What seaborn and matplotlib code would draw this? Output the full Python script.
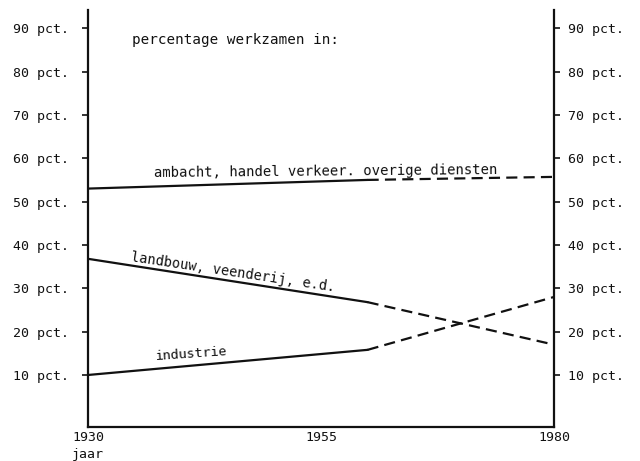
import pandas as pd
import seaborn as sns
import matplotlib.pyplot as plt
from matplotlib.transforms import ScaledTranslation

# Data
years = [1930, 1960, 1980]
ambacht = [53.0, 55.0, 55.7]
landbouw = [36.8, 26.8, 17.0]
industrie = [10.0, 15.8, 28.0]
ytick_values = [10, 20, 30, 40, 50, 60, 70, 80, 90]
ytick_labels = [f"{v} pct." for v in ytick_values]
xtick_values = [1930, 1955, 1980]

sns.set_style("white")
plt.rcParams['font.family'] = ['DejaVu Sans Mono']
ink = '#111111'

fig = plt.figure(figsize=(6.4, 4.61), dpi=100)
ax = fig.add_axes([88 / 640, 1 - 427 / 461, (554 - 88) / 640, (427 - 10) / 461])

df = pd.DataFrame({'jaar': years, 'ambacht': ambacht,
                   'landbouw': landbouw, 'industrie': industrie})
dash = (0, (5, 2.8))
for col in ['ambacht', 'landbouw', 'industrie']:
    # measured part (solid) and projection (dashed)
    sns.lineplot(data=df.iloc[:2], x='jaar', y=col, ax=ax, color=ink, lw=1.6)
    sns.lineplot(data=df.iloc[1:], x='jaar', y=col, ax=ax, color=ink, lw=1.6,
                 linestyle=dash)

ax.set_xlim(1930, 1980)
ax.set_ylim(-2, 94.2)
ax.set_xlabel('')
ax.set_ylabel('')

# y axis: ticks and labels on both sides
ax.set_yticks(ytick_values)
ax.set_yticklabels(ytick_labels)
ax.tick_params(axis='y', left=True, right=True, labelleft=True, labelright=True,
               direction='out', length=4, width=1.2, color=ink,
               labelsize=9.5, labelcolor=ink, pad=10)
off = ScaledTranslation(-4 / 72, 0, fig.dpi_scale_trans)
for t in ax.yaxis.get_major_ticks():
    t.label2.set_transform(t.label2.get_transform() + off)

ax.set_xticks(xtick_values)
ax.set_xticklabels([str(v) for v in xtick_values])
ax.tick_params(axis='x', direction='in', length=4, width=1.0, color=ink,
               labelsize=9.5, labelcolor=ink, pad=3)

for side in ['left', 'right', 'bottom']:
    ax.spines[side].set_visible(True)
    ax.spines[side].set_color(ink)
    ax.spines[side].set_linewidth(1.6)
ax.spines['top'].set_visible(False)

ax.text(1934.7, 87.2, 'percentage werkzamen in:', fontsize=10.3, color=ink,
        va='center', ha='left')
ax.text(1955.5, 54.9, 'ambacht, handel verkeer. overige diensten',
        fontsize=10, color=ink, ha='center', va='bottom', rotation=0.5)
ax.text(1945.5, 32.0, 'landbouw, veenderij, e.d.', fontsize=9.8, color=ink,
        ha='center', va='bottom', rotation=-8.5, rotation_mode='anchor')
ax.text(1941.2, 13.3, 'industrie', fontsize=9.5, color=ink,
        ha='center', va='bottom', rotation=4, rotation_mode='anchor')
ax.text(0.0, -0.066, 'jaar', transform=ax.transAxes, fontsize=9.5,
        color=ink, ha='center', va='center')

fig.savefig('out.png', dpi=100)
